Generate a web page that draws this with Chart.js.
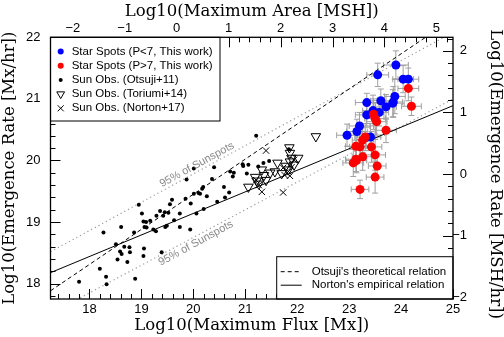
<!DOCTYPE html>
<html><head><meta charset="utf-8">
<script src="https://cdn.jsdelivr.net/npm/chart.js@4/dist/chart.umd.min.js"></script>
<style>html,body{margin:0;padding:0;background:#fff}canvas{display:block}</style>
</head><body>
<canvas id="c" width="504" height="337"></canvas>
<script>
// ---------------- data ----------------
const fluxTicks = [18, 19, 20, 21, 22, 23, 24, 25];
const areaTicks = [-2, -1, 0, 1, 2, 3, 4, 5];
const rateTicks = [18, 19, 20, 21, 22];
const rateMshTicks = [-2, -1, 0, 1, 2];
const fluxRange = [17.25, 25];
const rateRange = [17.75, 22];
const areaShift = 19.68;   // log10 flux [Mx] - log10 area [MSH]
const rateShift = 19.78;   // log10 rate [Mx/hr] - log10 rate [MSH/hr]

const otsujiPoints = [
  [17.80,18.03],[18.20,18.24],[18.32,18.11],[18.33,17.99],[18.27,18.83],[18.61,18.92],[18.51,18.64],
  [18.54,18.39],[18.59,18.52],[18.62,18.48],[18.67,18.60],[18.73,18.35],[18.77,18.59],[18.78,18.51],
  [18.88,18.08],[18.86,18.83],[18.95,19.28],[19.01,19.14],[19.04,19.01],[19.06,18.92],[19.09,19.00],
  [19.10,18.91],[19.05,18.57],[19.04,18.45],[19.17,19.02],[19.23,18.88],[19.28,18.85],[19.29,19.10],
  [19.36,19.18],[19.39,18.51],[19.42,19.10],[19.45,19.16],[19.46,18.92],[19.49,18.94],[19.52,19.15],
  [19.55,19.29],[19.59,19.36],[19.63,19.03],[19.74,19.14],[19.74,18.92],[19.85,19.38],[19.87,19.69],
  [19.94,18.88],[19.95,19.30],[20.01,19.87],[20.01,19.46],[20.06,19.14],[20.10,19.47],[20.13,19.46],
  [20.17,19.54],[20.19,19.57],[20.20,19.21],[20.26,19.42],[20.36,19.70],[20.40,19.89],[20.46,19.33],
  [20.59,19.57],[20.61,19.40],[20.69,19.48],[20.71,19.82],[20.76,19.74],[20.78,19.80],[20.96,19.91],
  [21.06,19.93],[21.03,19.79],[21.21,20.40],[21.25,19.90],[21.35,19.96],[21.46,19.99],[21.84,20.18],
  [20.95,19.94]
];
const toriumiPoints = [
  [21.06,19.57],[21.19,19.73],[21.22,19.67],[21.26,19.62],[21.32,19.85],[21.36,19.76],[21.48,19.80],
  [21.62,19.96],[21.70,19.79],[21.78,19.91],[21.85,20.21],[21.86,20.12],[21.89,20.04],[22.02,20.04],
  [21.86,19.98],[22.36,20.39],[21.83,19.85],[21.57,19.82],[21.40,19.68],[21.94,19.93]
];
const nortonPoints = [
  [21.40,20.16],[21.32,19.49],[21.73,19.48],[21.76,19.76],[21.83,19.82],[21.89,19.89],
  [21.86,19.75],[21.21,19.68],[21.26,19.60],[21.94,20.01],[21.73,19.88]
];
const fastSpots = [  // P<7, blue
  [23.90,21.55],[23.55,21.39],[24.04,21.32],[24.14,21.32],[23.34,20.94],[23.61,20.97],[23.71,20.87],
  [23.85,20.95],[23.88,21.04],[23.84,20.93],[23.34,20.74],[23.46,20.81],[23.58,20.78],[23.20,20.56],
  [23.15,20.47],[22.96,20.41],[23.41,20.38]
];
const fastXErr = [0.24,0.21,0.20,0.20,0.22,0.20,0.20,0.18,0.20,0.22,0.22,0.20,0.18,0.20,0.20,0.20,0.20];
const fastYErr = [0.23,0.19,0.22,0.18,0.15,0.19,0.20,0.25,0.28,0.22,0.20,0.25,0.22,0.22,0.20,0.18,0.22];
const slowSpots = [  // P>7, red
  [24.14,21.17],[24.20,20.88],[23.47,20.75],[23.50,20.68],[23.53,20.63],[23.71,20.49],[23.31,20.38],
  [23.26,20.33],[23.21,20.22],[23.13,20.23],[23.43,20.22],[23.26,20.06],[23.50,20.09],[23.13,20.02],
  [23.08,19.96],[23.14,20.00],[23.54,19.91],[23.50,19.73],[23.21,19.53]
];
const slowXErr = [0.20,0.19,0.20,0.20,0.20,0.20,0.20,0.20,0.20,0.20,0.20,0.20,0.20,0.20,0.20,0.20,0.17,0.17,0.17];
const slowYErr = [0.20,0.15,0.25,0.25,0.22,0.20,0.22,0.20,0.22,0.20,0.25,0.22,0.25,0.20,0.22,0.20,0.20,0.26,0.15];

const otsujiRelation = {slope: 0.57, x0: 20.9, y0: 19.964};
const nortonRelation = {slope: 0.35, x0: 20.9, y0: 19.455};
const bandLower = {slope: 0.45, x0: 17.78, y0: 17.75};
const bandUpper = {slope: 0.46, x0: 21.476, y0: 20.46};
const bandLabelUpper = [20.07, 19.93];
const bandLabelLower = [20.05, 18.655];

const axisTitles = {
  bottom: 'Log10(Maximum Flux [Mx])', top: 'Log10(Maximum Area [MSH])',
  left: 'Log10(Emergence Rate [Mx/hr])', right: 'Log10(Emergence Rate [MSH/hr])'
};
const legendEntries = [
  'Star Spots (P<7, This work)', 'Star Spots (P>7, This work)', 'Sun Obs. (Otsuji+11)',
  'Sun Obs. (Toriumi+14)', 'Sun Obs. (Norton+17)'
];
const lineLegendEntries = ["Otsuji's theoretical relation", "Norton's empirical relation"];

// ---------------- helpers ----------------
const toXY = arr => arr.map(p => ({x: p[0], y: p[1]}));
const relLine = r => fluxRange.map(x => ({x, y: r.y0 + r.slope * (x - r.x0)}));
const fmt = v => (v < 0 ? '\u2212' + Math.abs(v) : String(v));
const SANS = "'Liberation Sans', Arial, sans-serif";
const SERIF = "'DejaVu Serif', serif";
const ERR_COLOR = '#a0a0a0';
const tickFont = {family: SANS, size: 13};

function axis(position, range, ticks, size, tickExtra) {
  return {
    type: 'linear', position, min: range[0], max: range[1],
    afterBuildTicks: s => { s.ticks = ticks.map(v => ({value: v})); },
    afterFit: s => { if (position === 'top' || position === 'bottom') s.height = size; else s.width = size; },
    grid: {display: false, drawTicks: false},
    border: {display: false},
    ticks: Object.assign({font: tickFont, color: '#000', autoSkip: false, maxRotation: 0, callback: v => fmt(v)}, tickExtra),
    title: {display: false}
  };
}

// ---------------- plugins ----------------
const errorBars = {
  id: 'errorBars',
  beforeDatasetsDraw(chart) {
    const {ctx} = chart;
    const xs = chart.scales.x, ys = chart.scales.y;
    ctx.save();
    ctx.beginPath();
    ctx.rect(chart.chartArea.left, chart.chartArea.top, chart.chartArea.width, chart.chartArea.height);
    ctx.clip();
    ctx.strokeStyle = ERR_COLOR; ctx.lineWidth = 1;
    chart.data.datasets.forEach(ds => {
      if (!ds.xErr) return;
      ds.data.forEach((p, i) => {
        const x1 = xs.getPixelForValue(p.x - ds.xErr[i]), x2 = xs.getPixelForValue(p.x + ds.xErr[i]);
        const y1 = ys.getPixelForValue(p.y - ds.yErr[i]), y2 = ys.getPixelForValue(p.y + ds.yErr[i]);
        const px = xs.getPixelForValue(p.x), py = ys.getPixelForValue(p.y);
        const c = 3;
        ctx.beginPath();
        ctx.moveTo(x1, py); ctx.lineTo(x2, py);
        ctx.moveTo(x1, py - c); ctx.lineTo(x1, py + c);
        ctx.moveTo(x2, py - c); ctx.lineTo(x2, py + c);
        ctx.moveTo(px, y1); ctx.lineTo(px, y2);
        ctx.moveTo(px - c, y1); ctx.lineTo(px + c, y1);
        ctx.moveTo(px - c, y2); ctx.lineTo(px + c, y2);
        ctx.stroke();
      });
    });
    ctx.restore();
  }
};

function marker(ctx, kind, x, y) {
  ctx.save();
  ctx.lineWidth = 1; ctx.strokeStyle = '#000';
  if (kind === 'blue' || kind === 'red' || kind === 'dot') {
    ctx.fillStyle = kind === 'blue' ? '#0000ff' : kind === 'red' ? '#ff0000' : '#000';
    ctx.beginPath(); ctx.arc(x, y, kind === 'dot' ? 2 : 3, 0, Math.PI * 2); ctx.fill();
  } else if (kind === 'tri') {
    const r = 4.5;
    ctx.beginPath();
    ctx.moveTo(x - r * 0.866, y - r / 2); ctx.lineTo(x + r * 0.866, y - r / 2); ctx.lineTo(x, y + r);
    ctx.closePath(); ctx.stroke();
  } else if (kind === 'x') {
    const r = 3;
    ctx.beginPath();
    ctx.moveTo(x - r, y - r); ctx.lineTo(x + r, y + r);
    ctx.moveTo(x - r, y + r); ctx.lineTo(x + r, y - r); ctx.stroke();
  }
  ctx.restore();
}

const frameAndLegend = {
  id: 'frameAndLegend',
  afterDatasetsDraw(chart) {
    const {ctx, chartArea: a, scales} = chart;
    ctx.save();
    // band labels
    const angle = Math.atan2(
      scales.y.getPixelForValue(bandUpper.y0 + bandUpper.slope) - scales.y.getPixelForValue(bandUpper.y0),
      scales.x.getPixelForValue(bandUpper.x0 + 1) - scales.x.getPixelForValue(bandUpper.x0));
    ctx.fillStyle = '#8a8a8a';
    ctx.font = "11px " + SANS;
    ctx.textAlign = 'center'; ctx.textBaseline = 'middle';
    [bandLabelUpper, bandLabelLower].forEach(p => {
      ctx.save();
      ctx.translate(scales.x.getPixelForValue(p[0]), scales.y.getPixelForValue(p[1]));
      ctx.rotate(angle);
      ctx.fillText('95% of Sunspots', 0, 0);
      ctx.restore();
    });

    // tick marks (inward)
    ctx.strokeStyle = '#000'; ctx.lineWidth = 1;
    const side = (scale, where) => {
      const k0 = Math.ceil(scale.min * 5 - 1e-6), k1 = Math.floor(scale.max * 5 + 1e-6);
      for (let k = k0; k <= k1; k++) {
        const len = k % 5 === 0 ? 10 : 5;
        const p = Math.round(scale.getPixelForValue(k / 5)) + 0.5;
        ctx.beginPath();
        if (where === 'bottom') { ctx.moveTo(p, a.bottom); ctx.lineTo(p, a.bottom - len); }
        if (where === 'top') { ctx.moveTo(p, a.top); ctx.lineTo(p, a.top + len); }
        if (where === 'left') { ctx.moveTo(a.left, p); ctx.lineTo(a.left + len, p); }
        if (where === 'right') { ctx.moveTo(a.right, p); ctx.lineTo(a.right - len, p); }
        ctx.stroke();
      }
    };
    side(scales.x, 'bottom'); side(scales.x2, 'top'); side(scales.y, 'left'); side(scales.y2, 'right');

    // legend 1 (markers)
    const L = a.left, T = a.top;
    ctx.fillStyle = '#fff';
    ctx.fillRect(L, T, 169.5, 83.7);
    ctx.strokeRect(L, T, 169.5, 83.7);
    const kinds = ['blue', 'red', 'dot', 'tri', 'x'];
    ctx.font = "11.5px " + SANS; ctx.textAlign = 'left'; ctx.textBaseline = 'middle';
    legendEntries.forEach((t, i) => {
      const y = T + 14.2 + 14.2 * i;
      marker(ctx, kinds[i], L + 10.2, y);
      ctx.fillStyle = '#000';
      ctx.fillText(t, L + 21.2, y);
    });

    // legend 2 (lines)
    const L2 = a.right - 176.3, T2 = a.bottom - 42.3;
    ctx.fillStyle = '#fff';
    ctx.fillRect(L2, T2, a.right - L2, a.bottom - T2);
    ctx.strokeRect(L2, T2, a.right - L2, a.bottom - T2);
    lineLegendEntries.forEach((t, i) => {
      const y = T2 + 15 + 13.5 * i;
      ctx.save();
      ctx.strokeStyle = '#000'; ctx.lineWidth = 1;
      if (i === 0) ctx.setLineDash([4, 3]);
      ctx.beginPath(); ctx.moveTo(L2 + 4, y); ctx.lineTo(L2 + 25, y); ctx.stroke();
      ctx.restore();
      ctx.fillStyle = '#000';
      ctx.fillText(t, L2 + 35, y);
    });

    // frame
    ctx.lineWidth = 1.3;
    ctx.strokeRect(a.left, a.top, a.width, a.height);

    // axis titles
    const W = chart.width, H = chart.height;
    const cx = (a.left + a.right) / 2, cy = (a.top + a.bottom) / 2;
    ctx.fillStyle = '#000';
    ctx.font = "16.5px " + SERIF;
    ctx.textAlign = 'center'; ctx.textBaseline = 'middle';
    ctx.fillText(axisTitles.bottom, cx, H - 11);
    ctx.fillText(axisTitles.top, cx, 12);
    ctx.save(); ctx.translate(9.5, cy); ctx.rotate(-Math.PI / 2); ctx.fillText(axisTitles.left, 0, 0); ctx.restore();
    ctx.save(); ctx.translate(W - 9, cy + 6); ctx.rotate(Math.PI / 2); ctx.fillText(axisTitles.right, 0, 0); ctx.restore();
    ctx.restore();
  }
};

// ---------------- chart ----------------
new Chart(document.getElementById('c'), {
  type: 'scatter',
  data: {
    datasets: [
      {label: 'band upper', type: 'line', data: relLine(bandUpper), borderColor: '#9a9a9a', borderWidth: 1.2,
       borderDash: [1.2, 3], pointRadius: 0, fill: false, order: 20},
      {label: 'band lower', type: 'line', data: relLine(bandLower), borderColor: '#9a9a9a', borderWidth: 1.2,
       borderDash: [1.2, 3], pointRadius: 0, fill: false, order: 20},
      {label: lineLegendEntries[0], type: 'line', data: relLine(otsujiRelation), borderColor: '#000',
       borderWidth: 1, borderDash: [4, 3], pointRadius: 0, fill: false, order: 19},
      {label: lineLegendEntries[1], type: 'line', data: relLine(nortonRelation), borderColor: '#000',
       borderWidth: 1, pointRadius: 0, fill: false, order: 19},
      {label: legendEntries[2], data: toXY(otsujiPoints), pointStyle: 'circle', pointRadius: 2,
       backgroundColor: '#000', borderWidth: 0, order: 10},
      {label: legendEntries[3], data: toXY(toriumiPoints), pointStyle: 'triangle', rotation: 180, pointRadius: 5.5,
       backgroundColor: 'rgba(0,0,0,0)', borderColor: '#000', borderWidth: 1, order: 9},
      {label: legendEntries[4], data: toXY(nortonPoints), pointStyle: 'crossRot', pointRadius: 4.5,
       borderColor: '#000', borderWidth: 1, order: 8},
      {label: legendEntries[0], data: toXY(fastSpots), xErr: fastXErr, yErr: fastYErr, pointStyle: 'circle',
       pointRadius: 4.5, backgroundColor: '#0000ff', borderWidth: 0, order: 2},
      {label: legendEntries[1], data: toXY(slowSpots), xErr: slowXErr, yErr: slowYErr, pointStyle: 'circle',
       pointRadius: 4.5, backgroundColor: '#ff0000', borderWidth: 0, order: 1}
    ]
  },
  options: {
    responsive: false, animation: false, devicePixelRatio: 1,
    layout: {padding: 0},
    plugins: {legend: {display: false}, tooltip: {enabled: false}},
    events: [],
    scales: {
      x: axis('bottom', fluxRange, fluxTicks, 38, {padding: 3}),
      x2: axis('top', [fluxRange[0] - areaShift, fluxRange[1] - areaShift], areaTicks, 37.3, {padding: 1}),
      y: axis('left', rateRange, rateTicks, 50.5, {padding: 10}),
      y2: axis('right', [rateRange[0] - rateShift, rateRange[1] - rateShift], rateMshTicks, 51,
        {padding: 14, mirror: true, crossAlign: 'near'})
    }
  },
  plugins: [errorBars, frameAndLegend]
});
</script>
</body></html>
